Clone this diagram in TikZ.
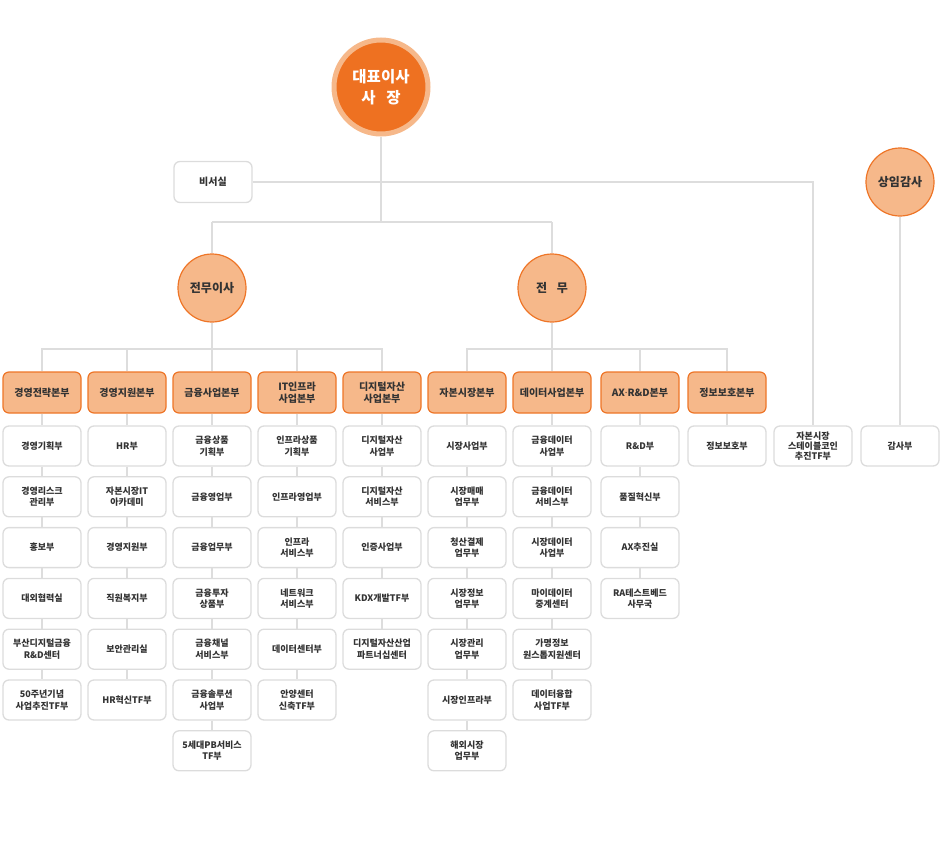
\documentclass[tikz,border=0pt]{standalone}
\usepackage{fontspec}
\setmainfont{Noto Sans CJK KR}
\newfontfamily\latinf{Noto Sans}
\definecolor{lineg}{HTML}{DDDDDD}
\definecolor{boxg}{HTML}{DCDCDC}
\definecolor{orD}{HTML}{EE7121}
\definecolor{orL}{HTML}{F6B88A}
\definecolor{orB}{HTML}{EE7527}
\definecolor{txt}{HTML}{333333}
\begin{document}
\begin{tikzpicture}[x=1pt,y=-1pt,
 conn/.style={draw=lineg,line width=2pt},
 unit/.style={draw=boxg,line width=1.3pt,fill=white,rounded corners=6pt,minimum width=78pt,minimum height=40pt,inner sep=0pt,align=center,font=\fontsize{9}{11.5}\selectfont\bfseries,text=txt},
 head/.style={draw=orB,line width=1.2pt,fill=orL,rounded corners=6pt,minimum width=78pt,minimum height=41pt,inner sep=0pt,align=center,font=\fontsize{10}{11.7}\selectfont\bfseries,text=txt},
 exec/.style={circle,draw=orB,line width=1.2pt,fill=orL,minimum size=68pt,inner sep=0pt,align=center,font=\fontsize{12}{14}\selectfont\bfseries,text=txt},
 ceostyle/.style={circle,fill=orD,draw=orL,line width=5pt,minimum size=94pt,inner sep=0pt,align=center,text=white,font=\fontsize{15.5}{21}\selectfont\bfseries}
]
\useasboundingbox (0,0) rectangle (942,854);

% top level
\node[ceostyle] (ceo) at (381,87) {대표이사\\사\hspace{0.7em}장};
\node[unit,minimum height=41pt,font=\fontsize{10}{12}\selectfont\bfseries] (sec) at (213,182) {비서실};
\node[exec] (vp1) at (212,288) {전무이사};
\node[exec] (vp2) at (552,288) {전\hspace{0.8em}무};
\node[exec] (aud) at (900,182) {상임감사};

% columns with headers
\foreach \c/\x/\h/\items in {
 1/42/{경영전략본부}/{경영기획부,{경영리스크\\관리부},홍보부,대외협력실,{부산디지털금융\\R\&D센터},{50주년기념\\사업추진TF부}},
 2/127/{경영지원본부}/{HR부,{자본시장IT\\아카데미},경영지원부,직원복지부,보안관리실,HR혁신TF부},
 3/212/{금융사업본부}/{{금융상품\\기획부},금융영업부,금융업무부,{금융투자\\상품부},{금융채널\\서비스부},{금융솔루션\\사업부},{5세대PB서비스\\TF부}},
 4/297/{IT인프라\\사업본부}/{{인프라상품\\기획부},인프라영업부,{인프라\\서비스부},{네트워크\\서비스부},데이터센터부,{안양센터\\신축TF부}},
 5/382/{디지털자산\\사업본부}/{{디지털자산\\사업부},{디지털자산\\서비스부},인증사업부,KDX개발TF부,{디지털자산산업\\파트너십센터}},
 6/467/{자본시장본부}/{시장사업부,{시장매매\\업무부},{청산결제\\업무부},{시장정보\\업무부},{시장관리\\업무부},시장인프라부,{해외시장\\업무부}},
 7/552/{데이터사업본부}/{{금융데이터\\사업부},{금융데이터\\서비스부},{시장데이터\\사업부},{마이데이터\\중계센터},{가명정보\\원스톱지원센터},{데이터융합\\사업TF부}},
 8/640/{AX{\latinf\bfseries·}R\&D본부}/{R\&D부,품질혁신부,AX추진실,{RA테스트베드\\사무국}},
 9/727/{정보보호본부}/{정보보호부}}{
  \node[head] (c\c-0) at (\x,392.5) {\h};
  \foreach \t [count=\r] in \items {
    \pgfmathtruncatemacro{\p}{\r-1}
    \node[unit] (c\c-\r) at (\x,{446+(\r-1)*50.8}) {\t};
    \draw[conn] (c\c-\p.south) -- (c\c-\r.north);
  }
}

% columns without headers
\node[unit,font=\fontsize{9}{10.3}\selectfont\bfseries] (c10-1) at (813,446) {자본시장\\스테이블코인\\추진TF부};
\node[unit] (c11-1) at (900,446) {감사부};

% top connectors
\coordinate (j1) at (381,222);
\coordinate (jL) at (212,222);
\coordinate (jR) at (552,222);
\draw[conn] (ceo.south) -- (j1);
\draw[conn] (jL) -- (jR);
\draw[conn] (jL) -- (vp1.north);
\draw[conn] (jR) -- (vp2.north);
\draw[conn] (sec.east) -| (c10-1.north);
\draw[conn] (aud.south) -- (c11-1.north);

\coordinate (b1) at (212,349);
\coordinate (b2) at (552,349);
\draw[conn] (vp1.south) -- (b1);
\draw[conn] (vp2.south) -- (b2);
\foreach \c in {1,...,5} \draw[conn] (b1) -| (c\c-0.north);
\foreach \c in {6,...,9} \draw[conn] (b2) -| (c\c-0.north);
\end{tikzpicture}
\end{document}
